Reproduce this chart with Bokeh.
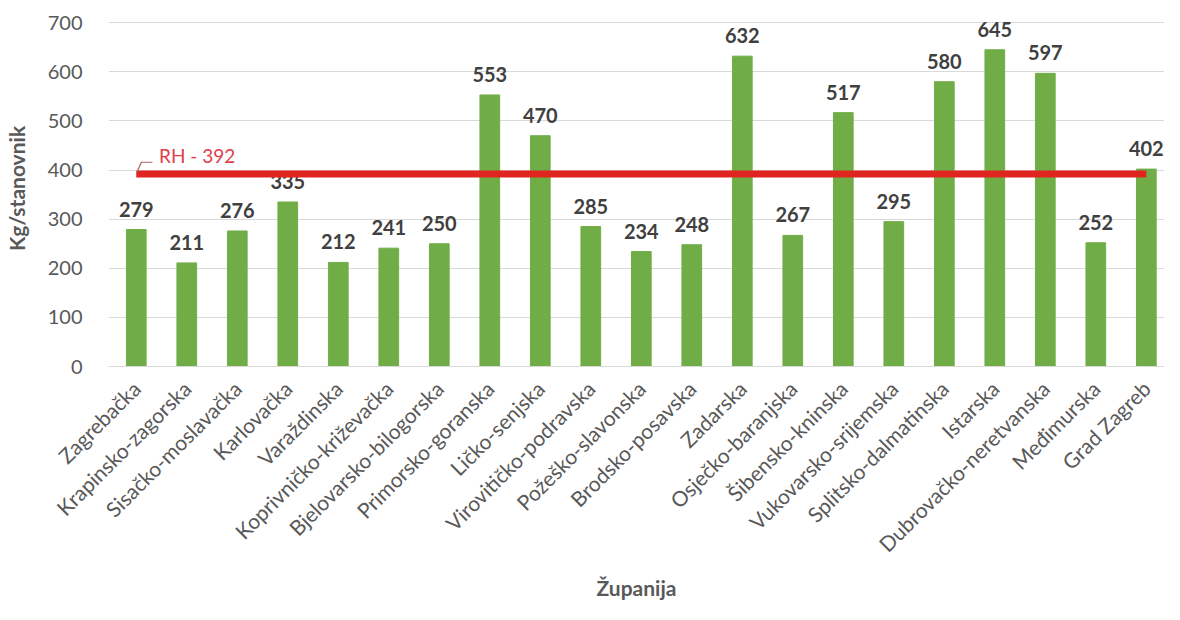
import math
from bokeh.plotting import figure
from bokeh.models import ColumnDataSource, Range1d, FixedTicker, Label
from bokeh.core.properties import value
from bokeh.embed import file_html
from bokeh.resources import INLINE

zupanije = ["Zagrebačka", "Krapinsko-zagorska", "Sisačko-moslavačka", "Karlovačka",
            "Varaždinska", "Koprivničko-križevačka", "Bjelovarsko-bilogorska",
            "Primorsko-goranska", "Ličko-senjska", "Virovitičko-podravska",
            "Požeško-slavonska", "Brodsko-posavska", "Zadarska", "Osječko-baranjska",
            "Šibensko-kninska", "Vukovarsko-srijemska", "Splitsko-dalmatinska",
            "Istarska", "Dubrovačko-neretvanska", "Međimurska", "Grad Zagreb"]
kg_po_stanovniku = [279, 211, 276, 335, 212, 241, 250, 553, 470, 285, 234, 248,
                    632, 267, 517, 295, 580, 645, 597, 252, 402]
rh_prosjek = 392
y_ticks = [0, 100, 200, 300, 400, 500, 600, 700]

FONT = "Lato"
x = list(range(len(zupanije)))
src = ColumnDataSource(dict(x=x, v=kg_po_stanovniku, t=[str(v) for v in kg_po_stanovniku]))

p = figure(width=1164, height=604, output_backend="svg", toolbar_location=None,
           x_range=Range1d(-0.55, len(zupanije) - 0.64), y_range=Range1d(0, 725),
           min_border_left=90, min_border_top=10, min_border_right=0, min_border_bottom=238)
p.outline_line_color = None
p.background_fill_color = "white"

p.vbar(x="x", top="v", width=0.39, source=src, color="#70ad47")
p.text(x="x", y="v", text="t", source=src, text_align="center", text_baseline="bottom",
       y_offset=-13, text_font=value(FONT), text_font_style="bold",
       text_font_size="20px", text_color="#404040")

p.line(x=[x[0], x[-1]], y=[rh_prosjek, rh_prosjek], line_color="#e02420", line_width=7)
p.line(x=[x[0], x[0] + 0.1, x[0] + 0.32], y=[rh_prosjek, rh_prosjek + 24, rh_prosjek + 24],
       line_color="#b06060", line_width=1.2)
p.add_layout(Label(x=x[0] + 0.45, y=rh_prosjek + 14, text=f"RH - {rh_prosjek}",
                   text_font=FONT, text_font_size="19px", text_color="#e0404a",
                   text_baseline="bottom"))

p.xaxis.ticker = FixedTicker(ticks=x)
p.xaxis.major_label_overrides = {i: n for i, n in zip(x, zupanije)}
p.xaxis.major_label_orientation = math.pi / 4
p.xaxis.major_label_text_font = FONT
p.xaxis.major_label_text_font_size = "21px"
p.xaxis.major_label_text_color = "#595959"
p.xaxis.major_label_standoff = 12
p.xaxis.axis_line_color = "#d9d9d9"
p.xaxis.major_tick_line_color = None
p.xaxis.minor_tick_line_color = None
p.xaxis.axis_label = "Županija"
p.xaxis.axis_label_text_font = FONT
p.xaxis.axis_label_text_font_style = "bold"
p.xaxis.axis_label_text_font_size = "21px"
p.xaxis.axis_label_text_color = "#595959"
p.xaxis.axis_label_standoff = 7
p.xgrid.grid_line_color = None

p.yaxis.ticker = FixedTicker(ticks=y_ticks)
p.yaxis.axis_line_color = None
p.yaxis.major_tick_line_color = None
p.yaxis.minor_tick_line_color = None
p.yaxis.major_label_text_font = FONT
p.yaxis.major_label_text_font_size = "20px"
p.yaxis.major_label_text_color = "#595959"
p.yaxis.major_label_standoff = 20
p.yaxis.axis_label = "Kg/stanovnik"
p.yaxis.axis_label_text_font = FONT
p.yaxis.axis_label_text_font_style = "bold"
p.yaxis.axis_label_text_font_size = "21px"
p.yaxis.axis_label_text_color = "#595959"
p.yaxis.axis_label_standoff = 16
p.ygrid.grid_line_color = "#d9d9d9"
p.ygrid.ticker = FixedTicker(ticks=y_ticks)

open("out.html", "w").write(file_html(p, INLINE))
